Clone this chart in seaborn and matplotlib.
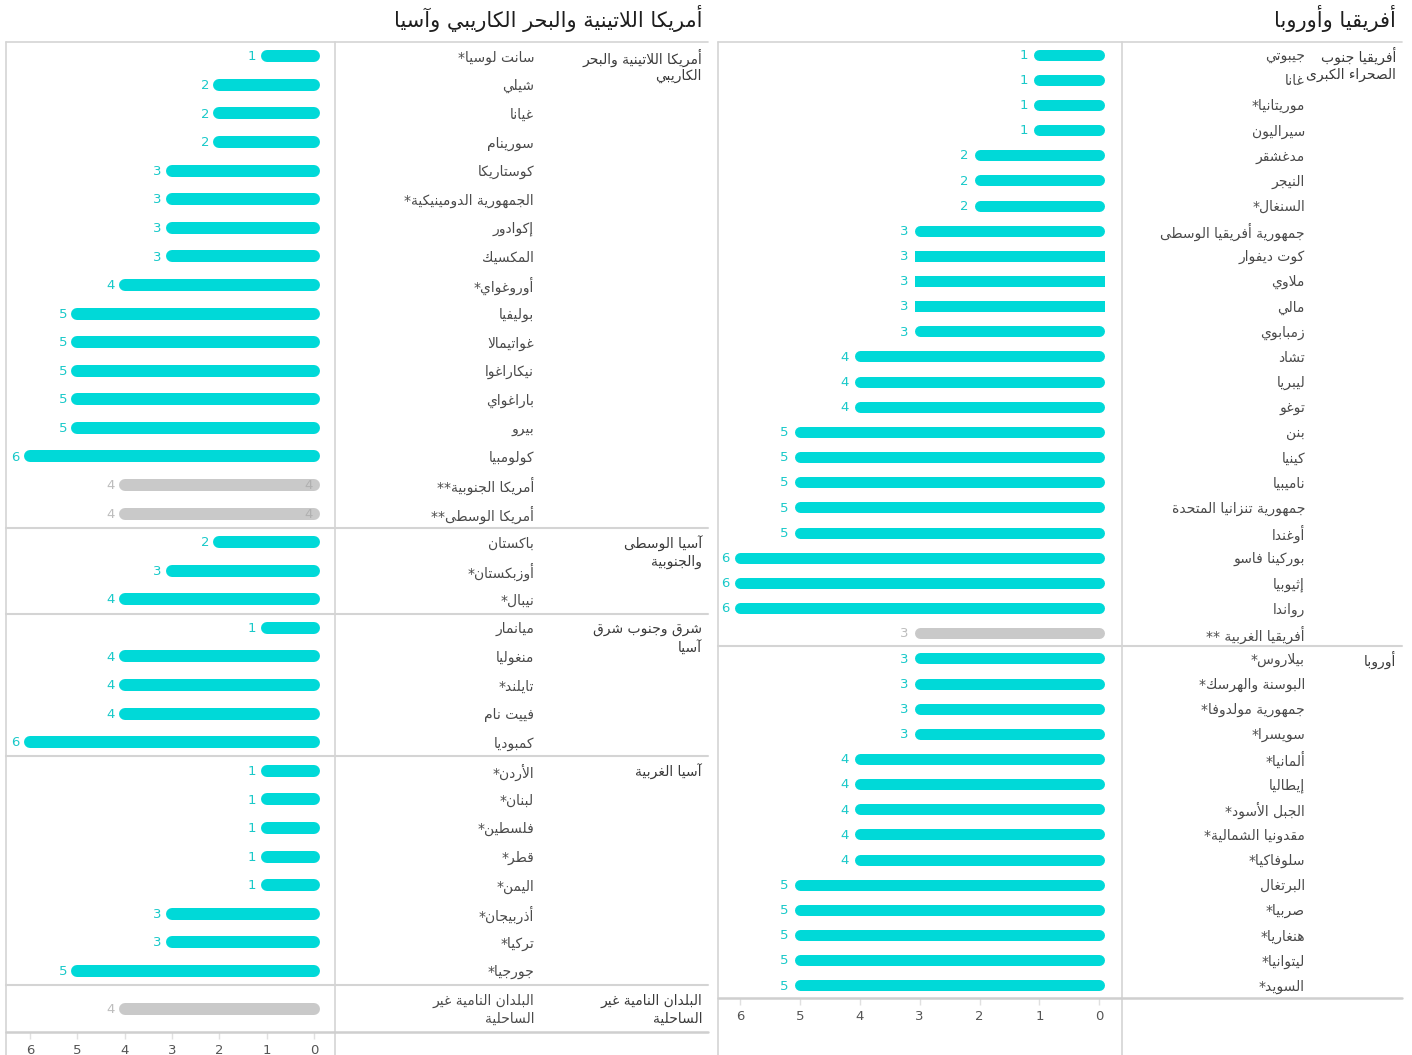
import matplotlib
matplotlib.use("Agg")
import matplotlib.pyplot as plt
import matplotlib.transforms as mtransforms
from matplotlib.lines import Line2D
import pandas as pd
import seaborn as sns

# ---- data ----
title_left = "أمريكا اللاتينية والبحر الكاريبي وآسيا"
title_right = "أفريقيا وأوروبا"

lac_name = "أمريكا اللاتينية والبحر\nالكاريبي"
lac_countries = ["سانت لوسيا*", "شيلي", "غيانا", "سورينام", "كوستاريكا",
                 "الجمهورية الدومينيكية*", "إكوادور", "المكسيك", "أوروغواي*",
                 "بوليفيا", "غواتيمالا", "نيكاراغوا", "باراغواي", "بيرو",
                 "كولومبيا", "أمريكا الجنوبية**", "أمريكا الوسطى**"]
lac_values = [1, 2, 2, 2, 3, 3, 3, 3, 4, 5, 5, 5, 5, 5, 6, 4, 4]

csa_name = "آسيا الوسطى\nوالجنوبية"
csa_countries = ["باكستان", "أوزبكستان*", "نيبال*"]
csa_values = [2, 3, 4]

esea_name = "شرق وجنوب شرق\nآسيا"
esea_countries = ["ميانمار", "منغوليا", "تايلند*", "فييت نام", "كمبوديا"]
esea_values = [1, 4, 4, 4, 6]

wa_name = "آسيا الغربية"
wa_countries = ["الأردن*", "لبنان*", "فلسطين*", "قطر*", "اليمن*",
                "أذربيجان*", "تركيا*", "جورجيا*"]
wa_values = [1, 1, 1, 1, 1, 3, 3, 5]

lldc_name = "البلدان النامية غير\nالساحلية"
lldc_countries = ["البلدان النامية غير\nالساحلية"]
lldc_values = [4]

ssa_name = "أفريقيا جنوب\nالصحراء الكبرى"
ssa_countries = ["جيبوتي", "غانا", "موريتانيا*", "سيراليون", "مدغشقر", "النيجر",
                 "السنغال*", "جمهورية أفريقيا الوسطى", "كوت ديفوار", "ملاوي",
                 "مالي", "زمبابوي", "تشاد", "ليبريا", "توغو", "بنن", "كينيا",
                 "ناميبيا", "جمهورية تنزانيا المتحدة", "أوغندا", "بوركينا فاسو",
                 "إثيوبيا", "رواندا", "أفريقيا الغربية **"]
ssa_values = [1, 1, 1, 1, 2, 2, 2, 3, 3, 3, 3, 3, 4, 4, 4, 5, 5, 5, 5, 5, 6, 6, 6, 3]

eu_name = "أوروبا"
eu_countries = ["بيلاروس*", "البوسنة والهرسك*", "جمهورية مولدوفا*", "سويسرا*",
                "ألمانيا*", "إيطاليا", "الجبل الأسود*", "مقدونيا الشمالية*",
                "سلوفاكيا*", "البرتغال", "صربيا*", "هنغاريا*", "ليتوانيا*", "السويد*"]
eu_values = [3, 3, 3, 3, 4, 4, 4, 4, 4, 5, 5, 5, 5, 5]

# regional aggregates are drawn in grey
aggregates = {"أمريكا الجنوبية**", "أمريكا الوسطى**", "البلدان النامية غير\nالساحلية",
              "أفريقيا الغربية **"}
square_bars = {"كوت ديفوار", "ملاوي", "مالي"}
inner_value = {"أمريكا الجنوبية**", "أمريكا الوسطى**"}

CYAN = "#00d9d8"
GREY = "#c9c9c9"
LINE = "#d4d4d4"

# ---- minimal arabic shaping (matplotlib has no bidi / shaping) ----
_FORMS = {
    "ء": (0xFE80, 1), "آ": (0xFE81, 2), "أ": (0xFE83, 2), "ؤ": (0xFE85, 2),
    "إ": (0xFE87, 2), "ئ": (0xFE89, 4), "ا": (0xFE8D, 2), "ب": (0xFE8F, 4),
    "ة": (0xFE93, 2), "ت": (0xFE95, 4), "ث": (0xFE99, 4), "ج": (0xFE9D, 4),
    "ح": (0xFEA1, 4), "خ": (0xFEA5, 4), "د": (0xFEA9, 2), "ذ": (0xFEAB, 2),
    "ر": (0xFEAD, 2), "ز": (0xFEAF, 2), "س": (0xFEB1, 4), "ش": (0xFEB5, 4),
    "ص": (0xFEB9, 4), "ض": (0xFEBD, 4), "ط": (0xFEC1, 4), "ظ": (0xFEC5, 4),
    "ع": (0xFEC9, 4), "غ": (0xFECD, 4), "ف": (0xFED1, 4), "ق": (0xFED5, 4),
    "ك": (0xFED9, 4), "ل": (0xFEDD, 4), "م": (0xFEE1, 4), "ن": (0xFEE5, 4),
    "ه": (0xFEE9, 4), "و": (0xFEED, 2), "ى": (0xFEEF, 2), "ي": (0xFEF1, 4),
}
_LIG = {"لآ": "\uFEF5", "لأ": "\uFEF7", "لإ": "\uFEF9", "لا": "\uFEFB"}
for _v in _LIG.values():
    _FORMS[_v] = (ord(_v), 2)


def ar(text):
    out_lines = []
    for line in text.split("\n"):
        for k, v in _LIG.items():
            line = line.replace(k, v)
        out = []
        for i, ch in enumerate(line):
            if ch not in _FORMS:
                out.append(ch)
                continue
            base, n = _FORMS[ch]
            prev = line[i - 1] if i > 0 else ""
            nxt = line[i + 1] if i + 1 < len(line) else ""
            jp = n > 1 and prev in _FORMS and _FORMS[prev][1] == 4
            jn = n == 4 and nxt in _FORMS and _FORMS[nxt][1] > 1
            off = 3 if (jp and jn) else 1 if jp else 2 if jn else 0
            out.append(chr(base + off))
        out_lines.append("".join(reversed(out)))
    return out_lines


sns.set_style("white")
plt.rcParams["font.family"] = ["DejaVu Sans"]

W, H = 1412, 1055
fig = plt.figure(figsize=(W / 100, H / 100), dpi=100)


def fx(px):
    return px / W


def fy(py):
    return 1 - py / H


def figline(x0, x1, y0, y1, lw=1.2, color=LINE):
    fig.add_artist(Line2D([fx(x0), fx(x1)], [fy(y0), fy(y1)], color=color, lw=lw,
                          transform=fig.transFigure))


def put_text(ax, trans, x, y, text, size, color, center=False, spacing=13.0, shift=-1.0):
    lines = ar(text)
    n = len(lines)
    for i, ln in enumerate(lines):
        dy = (n - 1) * spacing / 2 - i * spacing if center else -i * spacing
        ax.annotate(ln, xy=(x, y), xycoords=trans, xytext=(0, dy + shift),
                    textcoords="offset points", ha="right", va="center",
                    fontsize=size, color=color, annotation_clip=False)


def panel(box, groups, xlim, bar_px, label_px, group_px, val_off, title):
    x0, xs, x1, top, bottom = box
    ax = fig.add_axes([fx(x0), fy(bottom), fx(xs) - fx(x0), fy(top) - fy(bottom)])

    rows = []
    bounds = [-0.5]
    for gname, names, vals in groups:
        start = bounds[-1]
        span = max(len(names), 1.64)
        if len(names) == 1:
            ys = [start + span / 2]
        else:
            ys = [start + 0.5 + i for i in range(len(names))]
        for nm, v, yy in zip(names, vals, ys):
            rows.append({"name": nm, "value": v, "pos": yy, "group": gname,
                         "kind": "agg" if nm in aggregates else "country"})
        bounds.append(start + span)
    df = pd.DataFrame(rows)

    sns.barplot(data=df, x="value", y="pos", hue="kind", orient="y", native_scale=True,
                palette={"country": CYAN, "agg": GREY}, dodge=False, width=0.42,
                saturation=1, legend=False, ax=ax)
    ax.set_xlim(*xlim)
    ax.set_ylim(bounds[-1], -0.5)
    ax.set_yticks([])
    ax.set_xlabel("")
    ax.set_ylabel("")
    ax.set_xticks(range(7))
    ax.tick_params(axis="x", length=5, width=1, color="#e0e0e0", pad=4,
                   labelsize=9.5, labelcolor="#555555", bottom=True)
    for s in ax.spines.values():
        s.set_visible(False)

    # turn seaborn's rectangles into round-capped bars
    lw = bar_px * 72 / 100
    for p in list(ax.patches):
        yc = p.get_y() + p.get_height() / 2
        r = df.iloc[(df["pos"] - yc).abs().argmin()]
        p.set_visible(False)
        cap = "projecting" if r["name"] in square_bars else "round"
        ax.plot([p.get_x(), p.get_x() + p.get_width()], [yc, yc], color=p.get_facecolor(),
                lw=lw, solid_capstyle=cap)

    trans = mtransforms.blended_transform_factory(fig.transFigure, ax.transData)
    for _, r in df.iterrows():
        agg = r["kind"] == "agg"
        ax.annotate(str(r["value"]), xy=(r["value"], r["pos"]), xytext=(-val_off, -0.5),
                    textcoords="offset points", ha="right", va="center", fontsize=9.5,
                    color="#bdbdbd" if agg else "#19c9c9")
        if r["name"] in inner_value:
            ax.annotate(str(r["value"]), xy=(0, r["pos"]), xytext=(-1, -0.5),
                        textcoords="offset points", ha="right", va="center",
                        fontsize=9.5, color="#b0b0b0")
        put_text(ax, trans, fx(label_px), r["pos"], r["name"], 10, "#4a4a4a",
                 center="\n" in r["name"])

    for gname, names, vals in groups:
        first = df[df["group"] == gname]["pos"].iloc[0]
        put_text(ax, trans, fx(group_px), first, gname, 10, "#3a3a3a",
                 center=len(names) == 1 and "\n" in gname, spacing=13.3)

    # frame lines
    figline(x0, x1, top, top)
    figline(x0, x0, top, H)
    figline(xs, xs, top, H)
    for b in bounds[1:-1]:
        yb = top + (b + 0.5) / (bounds[-1] + 0.5) * (bottom - top)
        figline(x0, x1, yb, yb, lw=1.5)
    figline(x0, x1, bottom, bottom, lw=1.8, color="#cfcfcf")

    fig.text(fx(x1 - 6), fy(18), ar(title)[0], ha="right", va="center", fontsize=15,
             color="#1e1e1e")
    return ax


panel((6, 335, 708, 42, 1032),
      [(lac_name, lac_countries, lac_values),
       (csa_name, csa_countries, csa_values),
       (esea_name, esea_countries, esea_values),
       (wa_name, wa_countries, wa_values),
       (lldc_name, lldc_countries, lldc_values)],
      (6.51, -0.44), 12, 534, 702, 7.5, title_left)

panel((718, 1122, 1402, 42, 998),
      [(ssa_name, ssa_countries, ssa_values),
       (eu_name, eu_countries, eu_values)],
      (6.37, -0.38), 11, 1305, 1396, 8, title_right)

fig.savefig("out.png", dpi=100)
